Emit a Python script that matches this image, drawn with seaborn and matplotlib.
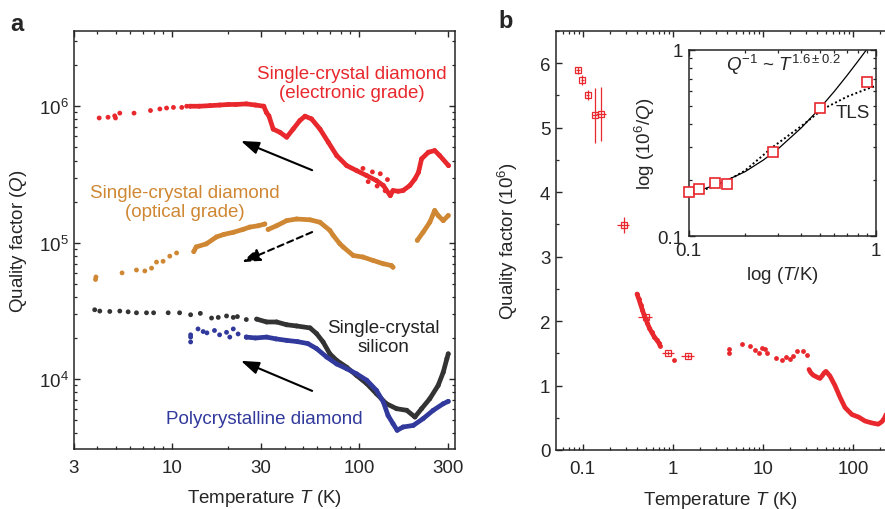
import numpy as np
import pandas as pd
import matplotlib
matplotlib.use("Agg")
import matplotlib.pyplot as plt
import matplotlib.ticker as mticker
import seaborn as sns

RED = "#e8282d"
ORANGE = "#cf8733"
BLACK = "#333333"
BLUE = "#313a9c"

# ---- panel a: Q vs T for four resonators ----
red_sparse_T = [4.09, 4.56, 4.95, 5.0, 5.27, 6.28, 7.69, 8.63, 9.37, 10.2, 11.3, 12.0]
red_sparse_Q = [8.2e5, 8.3e5, 8.5e5, 8.2e5, 8.9e5, 8.9e5, 9.3e5, 9.55e5, 9.7e5, 9.8e5, 9.8e5, 1.0e6]
red_dense_T = [12.5, 14, 16, 18, 20, 22, 25, 28, 31, 32, 33, 34.8, 37.8, 41.1, 44.5, 48.3, 51.5,
               55.8, 61.9, 68.6, 76, 86, 97.3, 110, 124, 135, 147, 152, 162, 172, 187, 199, 208,
               216, 235, 254, 270, 301]
red_dense_Q = [1.0e6, 1.0e6, 1.01e6, 1.02e6, 1.03e6, 1.03e6, 1.04e6, 1.02e6, 1.0e6, 9.0e5, 8.5e5,
               6.8e5, 6.44e5, 5.93e5, 6.8e5, 7.85e5, 8.45e5, 8.07e5, 6.8e5, 5.44e5, 4.35e5, 3.67e5,
               3.37e5, 3.1e5, 2.85e5, 2.62e5, 2.21e5, 2.41e5, 2.38e5, 2.41e5, 2.62e5, 2.93e5, 3.28e5,
               4.11e5, 4.6e5, 4.73e5, 4.35e5, 3.67e5]
red_noise_T = [105, 112, 118, 125, 130, 138, 142, 147]
red_noise_Q = [3.5e5, 2.8e5, 3.3e5, 2.6e5, 3.2e5, 2.4e5, 2.9e5, 2.25e5]

orange_sparse_T = [3.91, 3.93, 5.42, 6.47, 7.17, 7.79, 8.28, 8.98, 9.75, 10.6]
orange_sparse_Q = [5.37e4, 5.6e4, 6.0e4, 6.3e4, 6.2e4, 6.5e4, 7.2e4, 7.3e4, 7.96e4, 8.4e4]
orange_seg1_T = [13.1, 13.5, 15.3, 17.3, 19, 21.3, 24, 26.1, 29, 31.4]
orange_seg1_Q = [8.6e4, 9.3e4, 9.8e4, 1.1e5, 1.15e5, 1.19e5, 1.25e5, 1.30e5, 1.33e5, 1.37e5]
orange_seg2_T = [32.7, 36.3, 41.1, 46.4, 54.8, 61.9, 69.9, 72.8, 79.1, 82.3, 93.2, 105, 119, 135, 149, 152]
orange_seg2_Q = [1.25e5, 1.33e5, 1.45e5, 1.49e5, 1.47e5, 1.41e5, 1.23e5, 1.13e5, 9.8e4, 9.3e4,
                 8.05e4, 7.84e4, 7.4e4, 7.0e4, 6.8e4, 6.6e4]
orange_seg3_T = [205, 220, 239, 254, 265, 282, 300]
orange_seg3_Q = [1.04e5, 1.19e5, 1.41e5, 1.72e5, 1.58e5, 1.45e5, 1.58e5]

black_sparse_T = [3.87, 4.12, 4.66, 5.27, 5.84, 6.47, 7.32, 7.99, 9.56, 11.0, 12.6, 14.2, 16.3,
                  17.7, 19.6, 21.3, 22.4, 25.0]
black_sparse_Q = [3.22e4, 3.15e4, 3.13e4, 3.15e4, 3.11e4, 3.06e4, 3.06e4, 3.06e4, 3.06e4, 3.06e4,
                  2.96e4, 3.03e4, 2.80e4, 2.83e4, 2.90e4, 2.83e4, 2.87e4, 2.73e4]
black_dense_T = [28.4, 32.1, 36.3, 41.1, 46.4, 54.8, 59.4, 64.3, 69.9, 76, 86, 97.3, 110, 124,
                 140, 159, 180, 199, 216, 239, 265, 282, 295, 300]
black_dense_Q = [2.75e4, 2.62e4, 2.62e4, 2.5e4, 2.45e4, 2.37e4, 2.15e4, 1.87e4, 1.53e4, 1.37e4,
                 1.22e4, 1.06e4, 9.25e3, 7.8e3, 6.6e3, 6.06e3, 5.9e3, 5.27e3, 6.06e3, 7.17e3,
                 8.98e3, 1.12e4, 1.41e4, 1.53e4]

blue_sparse_T = [12.6, 12.6, 12.6, 13.8, 14.7, 15.4, 16.9, 18.0, 19.6, 20.4, 21.3, 22.6, 25.0]
blue_sparse_Q = [2.11e4, 2.03e4, 1.87e4, 2.33e4, 2.23e4, 2.18e4, 2.27e4, 2.11e4, 2.2e4, 2.03e4,
                 2.33e4, 2.14e4, 2.03e4]
blue_dense_T = [25, 28, 32.1, 36, 41.1, 47, 53.3, 59.4, 67.2, 76, 86, 97.3, 110, 124, 135, 143,
                152, 160, 172, 195, 220, 249, 282, 300]
blue_dense_Q = [2.03e4, 2.0e4, 2.03e4, 1.97e4, 1.92e4, 1.88e4, 1.82e4, 1.67e4, 1.45e4, 1.29e4,
                1.19e4, 1.09e4, 9.8e3, 8.26e3, 6.79e3, 5.41e3, 4.71e3, 4.21e3, 4.45e3, 4.57e3,
                5.12e3, 5.89e3, 6.59e3, 6.86e3]

# ---- panel b: electronic-grade diamond down to 0.1 K ----
b_band_T = [0.40, 0.42, 0.44, 0.46, 0.48, 0.50, 0.52, 0.55, 0.58, 0.62, 0.66, 0.70, 0.72]
b_band_Q = [2.42, 2.34, 2.25, 2.17, 2.09, 2.03, 1.97, 1.89, 1.83, 1.76, 1.71, 1.66, 1.62]
b_sparse_T = [1.04, 4.17, 4.17, 5.88, 7.13, 8.13, 9.0, 9.8, 10.5, 11.2, 14.1, 16.1, 18.0, 19.9,
              21.8, 23.7, 28.1, 30.6]
b_sparse_Q = [1.40, 1.57, 1.50, 1.64, 1.61, 1.55, 1.50, 1.58, 1.56, 1.50, 1.43, 1.40, 1.45, 1.41,
              1.46, 1.54, 1.53, 1.47]
b_high_T = [32.5, 34, 36.3, 40, 43.1, 46, 48.1, 50.2, 55.5, 63.2, 71.8, 81.6, 97.5, 116, 136,
            162, 191, 210, 225, 233]
b_high_Q = [1.25, 1.20, 1.16, 1.13, 1.11, 1.16, 1.20, 1.22, 1.15, 1.00, 0.82, 0.66, 0.55, 0.51,
            0.45, 0.42, 0.40, 0.44, 0.50, 0.55]
err_T = [0.089, 0.099, 0.113, 0.135, 0.160, 0.284, 0.50, 0.895, 1.48]
err_Q = [5.89, 5.74, 5.51, 5.19, 5.21, 3.49, 2.06, 1.50, 1.46]
err_dT = [0.004, 0.004, 0.005, 0.01, 0.02, 0.045, 0.09, 0.13, 0.25]
err_dQ = [0.05, 0.07, 0.08, 0.42, 0.42, 0.13, 0.03, 0.03, 0.03]

# inset: log(1e6/Q) vs log(T)
inset_T = [0.1007, 0.114, 0.138, 0.161, 0.281, 0.502, 0.891]
inset_D = [0.173, 0.179, 0.193, 0.191, 0.283, 0.487, 0.674]
power_T = [0.1, 0.12, 0.15, 0.2, 0.25, 0.3, 0.4, 0.5, 0.6, 0.7, 0.8, 0.89, 0.95]
power_D = [0.170, 0.179, 0.194, 0.222, 0.256, 0.294, 0.382, 0.484, 0.599, 0.727, 0.866, 1.0, 1.09]
tls_T = [0.1, 0.13, 0.16, 0.2, 0.28, 0.4, 0.52, 0.7, 0.89, 1.0]
tls_D = [0.168, 0.182, 0.198, 0.225, 0.30, 0.39, 0.48, 0.56, 0.615, 0.64]

sns.set_theme(style="ticks", rc={
    "xtick.direction": "in", "ytick.direction": "in",
    "xtick.top": True, "ytick.right": True,
    "axes.linewidth": 1.1,
    "xtick.major.size": 4, "ytick.major.size": 4,
    "xtick.minor.size": 2.5, "ytick.minor.size": 2.5,
    "xtick.major.width": 1.0, "ytick.major.width": 1.0,
    "xtick.minor.width": 0.9, "ytick.minor.width": 0.9,
})
plt.rcParams["font.family"] = ["Liberation Sans", "DejaVu Sans"]
plt.rcParams["mathtext.fontset"] = "custom"
plt.rcParams["mathtext.rm"] = "Liberation Sans"
plt.rcParams["mathtext.it"] = "Liberation Sans:italic"
plt.rcParams["mathtext.bf"] = "Liberation Sans:bold"
plt.rcParams["font.size"] = 13.5
plt.rcParams["xtick.labelsize"] = 13.5
plt.rcParams["ytick.labelsize"] = 13.5
plt.rcParams["axes.labelsize"] = 13.5

fig = plt.figure(figsize=(8.85, 5.1), dpi=100)
ax = fig.add_axes([74 / 885, 1 - 450 / 510, 381 / 885, 418 / 510])
axb = fig.add_axes([556 / 885, 1 - 451 / 510, 330 / 885, 419 / 510])
axi = fig.add_axes([688.7 / 885, 1 - 237.3 / 510, 187.3 / 885, 186.6 / 510])


def frame(rows):
    return pd.DataFrame(rows, columns=["T", "Q", "series", "seg"])


dense = []
for t, q in zip(red_dense_T, red_dense_Q):
    dense.append((t, q, "red", "r1"))
for seg, (ts, qs) in enumerate([(orange_seg1_T, orange_seg1_Q), (orange_seg2_T, orange_seg2_Q),
                                (orange_seg3_T, orange_seg3_Q)]):
    for t, q in zip(ts, qs):
        dense.append((t, q, "orange", f"o{seg}"))
for t, q in zip(black_dense_T, black_dense_Q):
    dense.append((t, q, "black", "k1"))
for t, q in zip(blue_dense_T, blue_dense_Q):
    dense.append((t, q, "blue", "b1"))
dense = frame(dense)

sparse = []
for name, ts, qs in [("red", red_sparse_T + red_noise_T, red_sparse_Q + red_noise_Q),
                     ("orange", orange_sparse_T, orange_sparse_Q),
                     ("black", black_sparse_T, black_sparse_Q),
                     ("blue", blue_sparse_T, blue_sparse_Q)]:
    for t, q in zip(ts, qs):
        sparse.append((t, q, name, name))
sparse = frame(sparse)

pal = {"red": RED, "orange": ORANGE, "black": BLACK, "blue": BLUE}
sns.lineplot(data=dense, x="T", y="Q", hue="series", units="seg", estimator=None, sort=False,
             palette=pal, lw=3.4, legend=False, ax=ax)
sns.scatterplot(data=pd.concat([sparse, dense]), x="T", y="Q", hue="series", palette=pal,
                s=12, linewidth=0, legend=False, ax=ax)

ax.set_xscale("log")
ax.set_yscale("log")
ax.set_xlim(3, 326)
ax.set_ylim(3.07e3, 3.56e6)
ax.xaxis.set_major_locator(mticker.FixedLocator([3, 10, 30, 100, 300]))
ax.xaxis.set_major_formatter(mticker.FixedFormatter(["3", "10", "30", "100", "300"]))
ax.xaxis.set_minor_locator(mticker.FixedLocator([4, 5, 6, 7, 8, 9, 20, 40, 50, 60, 70, 80, 90, 200]))
ax.xaxis.set_minor_formatter(mticker.NullFormatter())
ax.yaxis.set_major_locator(mticker.LogLocator(base=10))
ax.yaxis.set_minor_locator(mticker.LogLocator(base=10, subs=np.arange(2, 10)))
ax.yaxis.set_minor_formatter(mticker.NullFormatter())
ax.tick_params(axis="x", which="both", pad=7)
ax.tick_params(axis="y", which="both", pad=4)
ax.set_xlabel("Temperature $T$ (K)")
ax.set_ylabel("Quality factor ($Q$)")
ax.xaxis.set_label_coords(0.5, -0.092)
ax.yaxis.set_label_coords(-0.118, 0.5)

ax.text(0.73, 0.876, "Single-crystal diamond\n(electronic grade)", color=RED, ha="center",
        va="center", transform=ax.transAxes, linespacing=1.15)
ax.text(0.291, 0.591, "Single-crystal diamond\n(optical grade)", color=ORANGE, ha="center",
        va="center", transform=ax.transAxes, linespacing=1.15)
ax.text(0.811, 0.268, "Single-crystal\nsilicon", color="#222222", ha="center", va="center",
        transform=ax.transAxes, linespacing=1.15)
ax.text(0.499, 0.072, "Polycrystalline diamond", color=BLUE, ha="center", va="center",
        transform=ax.transAxes)

arrow = dict(arrowstyle="-|>,head_length=0.8,head_width=0.28", color="black", lw=1.5,
             shrinkA=0, shrinkB=0)
ax.annotate("", xy=(0.438, 0.737), xytext=(0.625, 0.667), xycoords="axes fraction", arrowprops=arrow)
ax.annotate("", xy=(0.438, 0.211), xytext=(0.625, 0.139), xycoords="axes fraction", arrowprops=arrow)
ax.annotate("", xy=(0.441, 0.447), xytext=(0.625, 0.519), xycoords="axes fraction",
            arrowprops=dict(arrow, linestyle=(0, (3, 2))))

# ---- panel b ----
bdf = pd.DataFrame({"T": b_band_T + b_high_T,
                    "Q": b_band_Q + b_high_Q,
                    "seg": ["low"] * len(b_band_T) + ["high"] * len(b_high_T)})
sns.lineplot(data=bdf, x="T", y="Q", units="seg", estimator=None, sort=False, color=RED, lw=3.4,
             legend=False, ax=axb)
sns.scatterplot(x=b_sparse_T + b_band_T, y=b_sparse_Q + b_band_Q, color=RED, s=12, linewidth=0, ax=axb)
axb.errorbar(err_T, err_Q, xerr=err_dT, yerr=err_dQ, fmt="s", mfc="none", mec=RED, ecolor=RED,
             ms=5, mew=0.9, elinewidth=0.9, capsize=0)
axb.set_xscale("log")
axb.set_xlim(0.0504, 233)
axb.set_ylim(0, 6.5)
axb.xaxis.set_major_locator(mticker.FixedLocator([0.1, 1, 10, 100]))
axb.xaxis.set_major_formatter(mticker.FixedFormatter(["0.1", "1", "10", "100"]))
axb.xaxis.set_minor_locator(mticker.LogLocator(base=10, subs=np.arange(2, 10)))
axb.xaxis.set_minor_formatter(mticker.NullFormatter())
axb.yaxis.set_major_locator(mticker.MultipleLocator(1))
axb.yaxis.set_minor_locator(mticker.MultipleLocator(0.5))
axb.spines["right"].set_visible(False)
axb.tick_params(axis="y", which="both", right=False, pad=4)
axb.tick_params(axis="x", which="both", pad=7)
axb.set_xlabel("Temperature $T$ (K)")
axb.set_ylabel("Quality factor (10$^6$)")
axb.xaxis.set_label_coords(0.5, -0.092)
axb.yaxis.set_label_coords(-0.109, 0.5)

# ---- inset ----
sns.lineplot(x=power_T, y=power_D, color="black", lw=0.9, ax=axi)
sns.lineplot(x=tls_T, y=tls_D, color="black", lw=1.4, ls=(0, (1, 1.3)), ax=axi)
axi.plot(inset_T, inset_D, "s", mfc="white", mec=RED, ms=7, mew=1.2, clip_on=False, zorder=5)
axi.set_xscale("log")
axi.set_yscale("log")
axi.set_xlim(0.1, 1)
axi.set_ylim(0.1, 1)
for a in (axi.xaxis, axi.yaxis):
    a.set_major_locator(mticker.FixedLocator([0.1, 1]))
    a.set_major_formatter(mticker.FixedFormatter(["0.1", "1"]))
    a.set_minor_locator(mticker.FixedLocator([0.2, 0.3, 0.4, 0.5, 0.6, 0.7, 0.8, 0.9]))
    a.set_minor_formatter(mticker.NullFormatter())
axi.tick_params(which="both", pad=4)
axi.set_xlabel("log ($T$/K)")
axi.set_ylabel("log (10$^6$/$Q$)")
axi.xaxis.set_label_coords(0.5, -0.148)
axi.yaxis.set_label_coords(-0.169, 0.5)
axi.text(0.503, 0.925, r"$Q^{-1}$ ~ $T^{1.6\pm0.2}$", ha="center", va="center",
         transform=axi.transAxes)
axi.text(0.877, 0.666, "TLS", ha="center", va="center", transform=axi.transAxes)

fig.text(0.019, 0.951, "a", fontsize=17, fontweight="bold", ha="center", va="center")
fig.text(0.571, 0.957, "b", fontsize=17, fontweight="bold", ha="center", va="center")

fig.savefig("out.png", dpi=100)
